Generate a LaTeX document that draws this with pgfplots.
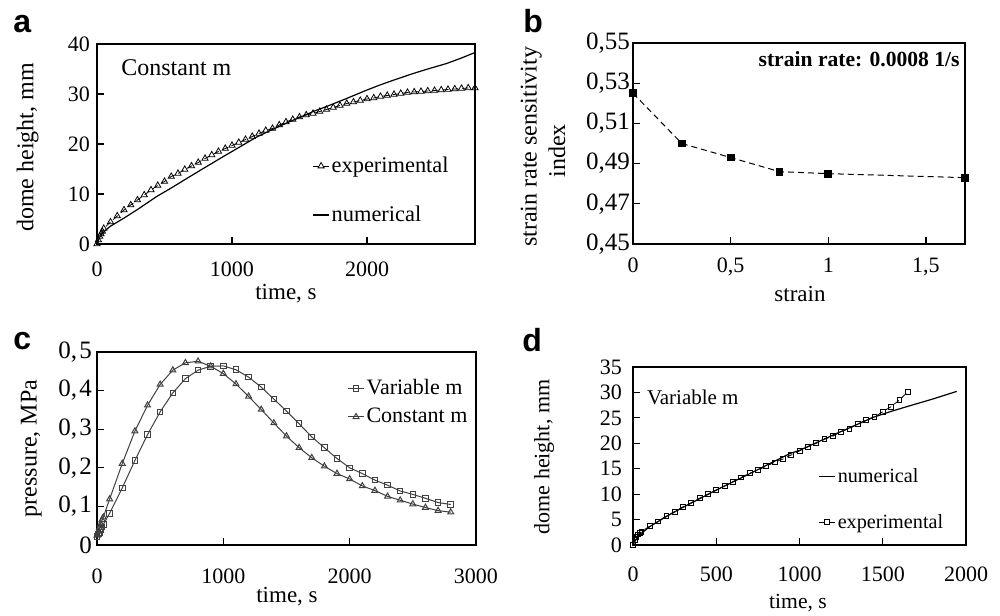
\documentclass[border=0pt]{standalone}
\usepackage{fontspec}
\setmainfont{Liberation Serif}
\newfontfamily\panelfont{Liberation Sans}
\usepackage{pgfplots}
\pgfplotsset{compat=1.18}
\pgfplotsset{
  myaxis/.style={
    scale only axis,
    xtick pos=left, ytick pos=left,
    tick align=inside,
    major tick length=3.5pt,
    axis line style={line width=0.7pt},
    every tick/.style={black, line width=0.6pt},
    tick label style={font=\fontsize{11}{13}\selectfont},
    legend cell align=left,
    legend image code/.code={\draw[mark repeat=2,mark phase=2,##1] plot coordinates {(0pt,0pt) (4pt,0pt) (8pt,0pt)};},
    /pgf/number format/use comma,
    /pgf/number format/1000 sep={},
    /pgf/number format/assume math mode=true,
  }
}
\begin{document}
\begin{tikzpicture}
\path[use as bounding box] (0,0) rectangle (500pt,307.5pt);

% ---------------- panel a ----------------
\begin{axis}[myaxis, at={(48.5pt,185.5pt)}, anchor=south west,
  width=189pt, height=100pt,
  xmin=0, xmax=2800, ymin=0, ymax=40,
  xtick={0,1000,2000}, ytick={0,10,20,30,40},
  xticklabel style={yshift=-5.3pt},
  legend style={draw=none, fill=none, at={(axis description cs:0.569,0.4415)}, anchor=north west,
    inner sep=0pt, row sep=14.5pt, column sep=1pt, font=\fontsize{11.2}{13}\selectfont,
    nodes={inner sep=0pt, text height=8pt, text depth=2pt}},
]
\addplot[black, densely dashed, line width=0.4pt, mark=triangle, mark size=1.8pt, mark options={solid, line width=0.4pt}] coordinates {
(0,0) (10,0.8) (20,1.5) (30,2.0) (40,2.5) (50,3.1) (100,4.4) (150,5.6) (200,6.8) (250,7.8)
(300,8.8) (350,9.8) (400,10.8) (450,11.7) (500,12.5) (550,13.5) (600,14.1) (650,14.9)
(700,15.6) (750,16.3) (800,17.1) (850,17.8) (900,18.5) (950,19.1) (1000,19.7) (1050,20.3)
(1100,20.9) (1150,21.5) (1200,22.1) (1250,22.7) (1300,23.1) (1350,23.8) (1400,24.4)
(1450,24.9) (1500,25.4) (1550,25.8) (1600,26.1) (1650,26.5) (1700,26.9) (1750,27.3)
(1800,27.7) (1850,28.1) (1900,28.4) (1950,28.7) (2000,29.0) (2050,29.2) (2100,29.5)
(2150,29.7) (2200,29.9) (2250,30.1) (2300,30.3) (2350,30.4) (2400,30.5) (2450,30.6)
(2500,30.7) (2550,30.8) (2600,30.9) (2650,31.0) (2700,31.1) (2750,31.2) (2800,31.2)
};
\addlegendentry{experimental}
\addplot[black, line width=0.6pt] coordinates {
(0,0) (20,1.4) (50,2.4) (96,3.5) (195,5.1) (300,6.9) (442,9.5) (550,11.2) (689,13.5)
(800,15.3) (936,17.5) (1000,18.5) (1183,21.4) (1300,22.9) (1405,24.2) (1500,25.3)
(1602,26.5) (1700,27.5) (1849,29.1) (2000,30.8) (2096,31.8) (2200,32.8) (2343,34.1)
(2450,35.0) (2590,36.1) (2700,37.2) (2800,38.3)
};
\addlegendentry{numerical}
\node[anchor=base west, inner sep=0pt, font=\fontsize{12}{14}\selectfont] at (rel axis cs:0,1) [xshift=12pt, yshift=-16pt] {Constant m};
\end{axis}

% ---------------- panel b ----------------
\begin{axis}[myaxis, at={(316.5pt,185.5pt)}, anchor=south west,
  width=166pt, height=100.5pt,
  xmin=0, xmax=1.7, ymin=0.45, ymax=0.55,
  xtick={0,0.5,1,1.5}, ytick={0.45,0.47,0.49,0.51,0.53,0.55},
  yticklabel style={/pgf/number format/fixed, /pgf/number format/precision=2, /pgf/number format/fixed zerofill, font=\fontsize{12.5}{14}\selectfont, xshift=2pt},
  xticklabel style={yshift=-3.5pt},
]
\addplot[black, densely dashed, line width=0.5pt, mark=square*, mark size=1.7pt, mark options={solid}] coordinates {
(0,0.525) (0.25,0.500) (0.5,0.493) (0.75,0.486) (1,0.485) (1.7,0.483)
};
\node[anchor=base east, inner sep=0pt, font=\bfseries\fontsize{10.8}{13}\selectfont] at (rel axis cs:1,1) [xshift=-2.5pt, yshift=-12pt] {strain rate: 0.0008 1/s};
\end{axis}

% ---------------- panel c ----------------
\begin{axis}[myaxis, at={(48.5pt,35pt)}, anchor=south west,
  width=189.5pt, height=96.5pt,
  xmin=0, xmax=3000, ymin=0, ymax=0.5,
  xtick={0,1000,2000,3000}, ytick={0,0.1,0.2,0.3,0.4,0.5},
  yticklabel style={font=\fontsize{12.5}{14}\selectfont, xshift=1pt, /pgf/number format/set decimal separator={,\kern1.2pt}},
  xticklabel style={yshift=-8.5pt},
  legend style={draw=none, fill=none, at={(axis description cs:0.66,0.865)}, anchor=north west,
    inner sep=0pt, row sep=4.2pt, column sep=1pt, font=\fontsize{11}{13}\selectfont,
    nodes={inner sep=0pt, text height=8pt, text depth=2pt}},
]
\addplot[black!75, line width=0.5pt, mark=square, mark size=1.4pt, mark options={solid, line width=0.5pt}] coordinates {
(0,0.022) (10,0.028) (20,0.033) (30,0.040) (40,0.047) (50,0.053) (100,0.082) (200,0.148)
(300,0.219) (400,0.286) (500,0.345) (600,0.394) (700,0.431) (800,0.453) (900,0.463)
(1000,0.464) (1100,0.454) (1200,0.435) (1300,0.409) (1400,0.378) (1500,0.347)
(1600,0.314) (1700,0.280) (1800,0.252) (1900,0.224) (2000,0.200) (2100,0.185)
(2200,0.168) (2300,0.155) (2400,0.140) (2500,0.131) (2600,0.121) (2700,0.110) (2800,0.105)
};
\addlegendentry{Variable m}
\addplot[black!75, line width=0.5pt, mark=triangle, mark size=1.7pt, mark options={solid, line width=0.5pt}] coordinates {
(0,0.025) (10,0.035) (20,0.045) (30,0.055) (40,0.065) (50,0.072) (100,0.119) (200,0.211)
(300,0.295) (400,0.362) (500,0.416) (600,0.453) (700,0.472) (800,0.476) (900,0.463)
(1000,0.444) (1100,0.417) (1200,0.385) (1300,0.351) (1400,0.316) (1500,0.282)
(1600,0.252) (1700,0.226) (1800,0.204) (1900,0.185) (2000,0.171) (2100,0.153)
(2200,0.141) (2300,0.126) (2400,0.116) (2500,0.106) (2600,0.097) (2700,0.089) (2800,0.085)
};
\addlegendentry{Constant m}
\end{axis}

% ---------------- panel d ----------------
\begin{axis}[myaxis, at={(316.5pt,35pt)}, anchor=south west,
  width=166.5pt, height=89pt,
  xmin=0, xmax=2000, ymin=0, ymax=35,
  xtick={0,500,1000,1500,2000}, ytick={0,5,10,15,20,25,30,35},
  yticklabel style={xshift=-2pt},
  xticklabel style={yshift=-7.5pt},
  legend style={draw=none, fill=none, at={(axis description cs:0.556,0.442)}, anchor=north west,
    inner sep=0pt, row sep=12.7pt, column sep=1pt, font=\fontsize{10.1}{12}\selectfont,
    nodes={inner sep=0pt, text height=8pt, text depth=2pt}},
]
\addplot[black, line width=0.6pt] coordinates {
(0,0) (20,1.2) (50,2.3) (100,3.6) (200,5.6) (300,7.4) (500,10.8) (700,14.0) (943,18.0)
(1000,18.6) (1200,21.6) (1443,25.1) (1543,26.2) (1644,27.2) (1800,28.7) (1944,30.2)
};
\addlegendentry{numerical}
\addplot[black, densely dashed, line width=0.4pt, mark=square, mark size=1.2pt, mark options={solid, line width=0.4pt}] coordinates {
(0,0) (10,1.0) (20,1.6) (30,2.1) (40,2.4) (50,2.6) (100,3.7) (150,4.65) (200,5.7)
(250,6.55) (300,7.5) (350,8.3) (400,9.2) (450,10.0) (500,10.8) (550,11.6) (600,12.45)
(650,13.3) (700,14.1) (750,14.7) (800,15.5) (850,16.25) (900,16.9) (950,17.7)
(1000,18.5) (1050,19.3) (1100,20.0) (1150,20.8) (1200,21.4) (1250,22.3) (1300,22.9)
(1350,23.8) (1400,24.6) (1450,25.2) (1500,26.2) (1550,27.2) (1600,28.5) (1650,30.1)
};
\addlegendentry{experimental}
\node[anchor=base west, inner sep=0pt, font=\fontsize{10.5}{13}\selectfont] at (rel axis cs:0,1) [xshift=6.8pt, yshift=-18.7pt] {Variable m};
\end{axis}

% axis labels
\node[anchor=base, inner sep=0pt, font=\fontsize{11.5}{14}\selectfont] at (143pt,157.5pt) {time, s};
\node[anchor=base, inner sep=0pt, rotate=90, font=\fontsize{12}{14}\selectfont] at (16.7pt,233.8pt) {dome height, mm};
\node[anchor=base, inner sep=0pt, font=\fontsize{11.5}{14}\selectfont] at (400pt,156.5pt) {strain};
\node[anchor=base, inner sep=0pt, rotate=90, font=\fontsize{12}{14}\selectfont] at (268.3pt,234pt) {strain rate sensitivity};
\node[anchor=base, inner sep=0pt, rotate=90, font=\fontsize{12}{14}\selectfont] at (282.5pt,232pt) {index};
\node[anchor=base, inner sep=0pt, font=\fontsize{11.5}{14}\selectfont] at (143.5pt,6pt) {time, s};
\node[anchor=base, inner sep=0pt, rotate=90, font=\fontsize{12}{14}\selectfont] at (18.3pt,83.3pt) {pressure, MPa};
\node[anchor=base, inner sep=0pt, font=\fontsize{10.8}{13}\selectfont] at (399pt,3pt) {time, s};
\node[anchor=base, inner sep=0pt, rotate=90, font=\fontsize{11}{13}\selectfont] at (274.7pt,79pt) {dome height, mm};

% panel letters
\node[anchor=base west, inner sep=0pt, font=\panelfont\bfseries\fontsize{16}{18}\selectfont] at (6.5pt,291pt) {a};
\node[anchor=base west, inner sep=0pt, font=\panelfont\bfseries\fontsize{16}{18}\selectfont] at (261.5pt,291pt) {b};
\node[anchor=base west, inner sep=0pt, font=\panelfont\bfseries\fontsize{16}{18}\selectfont] at (6.5pt,132.5pt) {c};
\node[anchor=base west, inner sep=0pt, font=\panelfont\bfseries\fontsize{16}{18}\selectfont] at (261pt,131.5pt) {d};
\end{tikzpicture}
\end{document}
